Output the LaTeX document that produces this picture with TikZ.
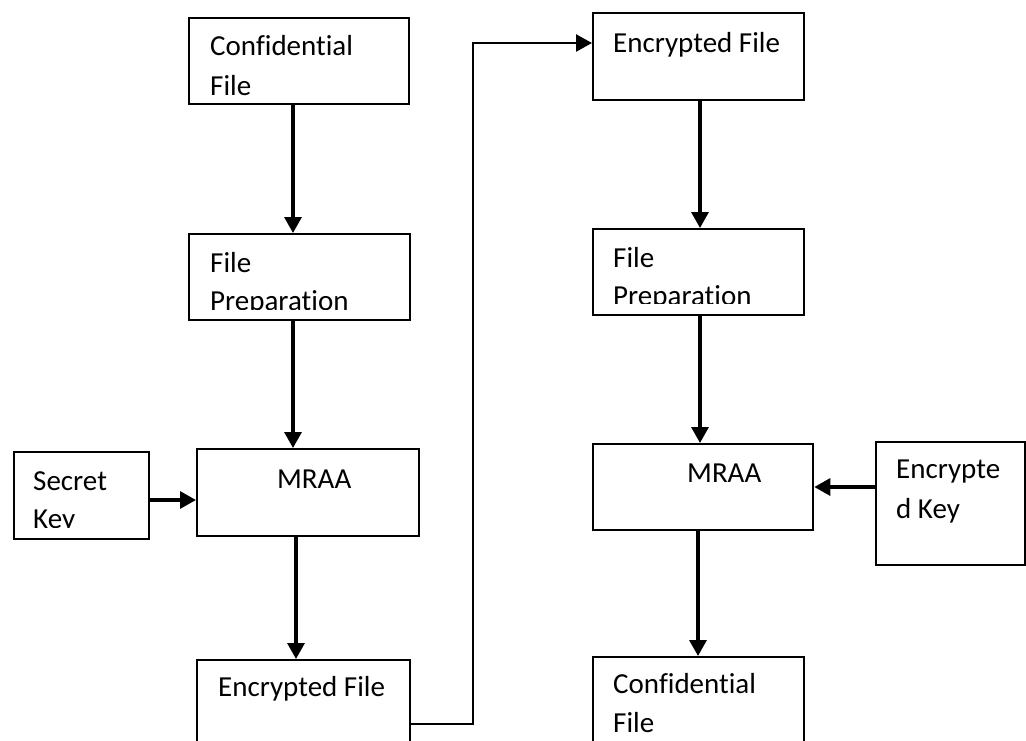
\documentclass[tikz,border=0pt]{standalone}
\usepackage{fontspec}
\setmainfont{Carlito}[Ligatures=CommonOff]
\usetikzlibrary{arrows.meta}
\begin{document}
\begin{tikzpicture}[x=1pt,y=-1pt,
  box/.style={draw, line width=2.3pt, rectangle, anchor=north west, inner sep=0pt},
  txt/.style={anchor=base west, inner sep=0pt, font=\fontsize{29}{40}\selectfont},
  arr/.style={line width=3.2pt, -{Triangle[length=16pt,width=17pt]}},
  thinarr/.style={arr, line width=2.4pt}]
\useasboundingbox (0,0) rectangle (1026,740);
\clip (0,0) rectangle (1026,740);
% boxes
\node[box, minimum width=220pt, minimum height=86pt] (conf1) at (188,17) {};
\node[box, minimum width=221pt, minimum height=86pt] (prep1) at (188,233) {};
\node[box, minimum width=135pt, minimum height=87pt] (key1) at (13,451) {};
\node[box, minimum width=222pt, minimum height=87pt] (mraa1) at (196,448) {};
\node[box, minimum width=213pt, minimum height=120pt] (enc1) at (196,659) {};
\node[box, minimum width=211pt, minimum height=87pt] (enc2) at (592,12) {};
\node[box, minimum width=211pt, minimum height=86pt] (prep2) at (592,228) {};
\node[box, minimum width=220pt, minimum height=86pt] (mraa2) at (592,443) {};
\node[box, minimum width=149pt, minimum height=123pt] (ekey) at (875,441) {};
\node[box, minimum width=211pt, minimum height=120pt] (conf2) at (592,656) {};
% texts
\node[txt] (t1a) at (210,55) {Confidential};
\node[txt] (t1b) at (210,95) {File};
\node[txt] (t2a) at (210,272) {File};
\begin{scope}
  \clip (190,280) rectangle (407,309);
  \node[txt] (t2b) at (210,310) {Preparation};
\end{scope}
\node[txt] (t3a) at (33,490) {Secret};
\begin{scope}
  \clip (15,500) rectangle (146,527);
  \node[txt] (t3b) at (33,528) {Key};
\end{scope}
\node[txt] (t4) at (277,488) {MRAA};
\node[txt] (t5) at (218,696) {Encrypted File};
\node[txt] (t6) at (613,52) {Encrypted File};
\node[txt] (t7a) at (613,267) {File};
\begin{scope}
  \clip (594,275) rectangle (801,303);
  \node[txt] (t7b) at (613,305) {Preparation};
\end{scope}
\node[txt] (t8) at (687,482) {MRAA};
\node[txt] (t9a) at (896,478) {Encrypte};
\node[txt] (t9b) at (896,518) {d Key};
\node[txt] (t10a) at (613,693) {Confidential};
\node[txt] (t10b) at (613,732) {File};
% connector helpers
\coordinate (xl) at (293,0);
\coordinate (xl2) at (296,0);
\coordinate (xr) at (700,0);
\coordinate (xr2) at (698,0);
\coordinate (ya) at (0,500);
\coordinate (yb) at (0,487);
\coordinate (lo) at (0,724);
\coordinate (bend) at (473,43);
% connectors
\draw[arr] (conf1.south -| xl) -- (prep1.north -| xl);
\draw[arr] (prep1.south -| xl) -- (mraa1.north -| xl);
\draw[arr] (mraa1.south -| xl2) -- (enc1.north -| xl2);
\draw[arr] (key1.east |- ya) -- (mraa1.west |- ya);
\draw[thinarr] (enc1.east |- lo) -| (bend) -- (enc2.west |- bend);
\draw[arr] (enc2.south -| xr) -- (prep2.north -| xr);
\draw[arr] (prep2.south -| xr) -- (mraa2.north -| xr);
\draw[arr] (ekey.west |- yb) -- (mraa2.east |- yb);
\draw[arr] (mraa2.south -| xr2) -- (conf2.north -| xr2);
\end{tikzpicture}
\end{document}
